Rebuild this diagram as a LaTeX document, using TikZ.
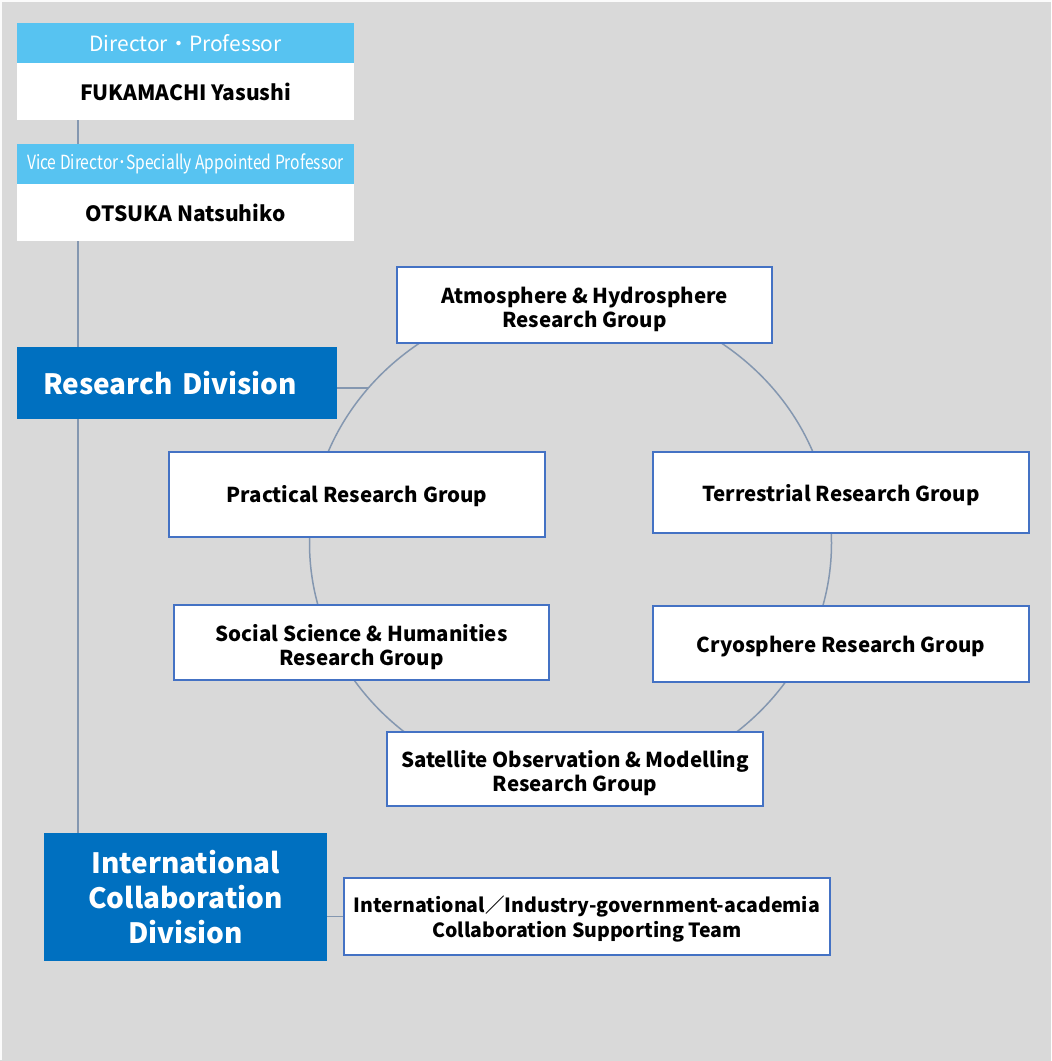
\documentclass[tikz,border=0pt]{standalone}
\usepackage{fontspec}
\setmainfont{Noto Sans CJK JP}
\newfontfamily\jpc[FakeStretch=0.80]{Noto Sans CJK JP}
\newcommand\lowerstrut[1]{\rule{0pt}{#1}}
\definecolor{bggray}{HTML}{D9D9D9}
\definecolor{hdrblue}{HTML}{57C3F1}
\definecolor{divblue}{HTML}{0070C0}
\definecolor{linegray}{HTML}{8497B0}
\definecolor{boxline}{HTML}{4472C4}
\begin{document}
\begin{tikzpicture}[x=1pt,y=-1pt,
  hdr/.style={rectangle,fill=hdrblue,text=white,inner sep=0pt,minimum width=337pt,minimum height=40pt},
  namebox/.style={rectangle,fill=white,text=black,inner sep=0pt,minimum width=337pt,minimum height=57pt,font=\fontsize{21}{24}\selectfont\bfseries},
  divbox/.style={rectangle,fill=divblue,text=white,font=\fontsize{28}{35}\selectfont\bfseries},
  grp/.style={rectangle,fill=white,draw=boxline,line width=1.6pt,text=black,inner sep=0pt,align=center,font=\fontsize{20.5}{24.5}\selectfont\bfseries},
  conn/.style={draw=linegray,line width=1.5pt}]
% background
\fill[bggray] (0,0) rectangle (1051,1061);
\draw[white!90!bggray,line width=2pt] (1051,1) -- (1,1) -- (1,1060);
\useasboundingbox (0,0) rectangle (1051,1061);
% ring
\coordinate (ringc) at (570.5,543);
\draw[conn] (ringc) ellipse [x radius=261, y radius=245];
\coordinate (spine) at (78,0);
\coordinate (rdc) at (368.4,388);
% director
\node[hdr,font=\fontsize{21}{24}\selectfont] (dirh) at (185.5,43) {Director・Professor};
\node[namebox] (dir) at (185.5,91.5) {FUKAMACHI Yasushi};
\node[hdr,font=\jpc\fontsize{19.5}{22}\selectfont] (vich) at (185.5,164) {Vice Director･Specially Appointed Professor};
\node[namebox] (vic) at (185.5,212.5) {OTSUKA Natsuhiko};
% divisions
\node[divbox,inner xsep=26pt,inner ysep=0pt,text width=268pt,align=left,minimum height=72pt] (rd) at (177,383) {Research Division};
\node[divbox,inner sep=0pt,minimum width=283pt,minimum height=128pt,align=center,font=\fontsize{28}{35}\selectfont\bfseries] (icd) at (185.5,897) {International\\Collaboration\\Division};
% spine
\draw[conn] (dir.south -| spine) -- (vich.north -| spine);
\draw[conn] (vic.south -| spine) -- (rd.north -| spine);
\draw[conn] (rd.south -| spine) -- (icd.north -| spine);
\draw[conn] (rd.east |- rdc) -- (rdc);
% groups
\node[grp,minimum width=375pt,minimum height=76pt] (atm) at (584.5,305) {\lowerstrut{25pt}Atmosphere \& Hydrosphere\\Research Group};
\node[grp,minimum width=376pt,minimum height=85pt] (prac) at (357,494.5) {\lowerstrut{21pt}Practical Research Group};
\node[grp,minimum width=376pt,minimum height=81pt] (terr) at (841,492.5) {\lowerstrut{22pt}Terrestrial Research Group};
\node[grp,minimum width=375pt,minimum height=75pt] (soc) at (361.5,642.5) {\lowerstrut{26pt}Social Science \& Humanities\\Research Group};
\node[grp,minimum width=376pt,minimum height=76pt] (cryo) at (841,644) {\lowerstrut{22pt}Cryosphere Research Group};
\node[grp,minimum width=376pt,minimum height=74pt] (sat) at (575,769) {\lowerstrut{25pt}Satellite Observation \& Modelling\\Research Group};
\node[grp,minimum width=486pt,minimum height=77pt,font=\fontsize{19.5}{25}\selectfont\bfseries] (team) at (587,916.5) {\lowerstrut{22pt}International／Industry-government-academia\\Collaboration Supporting Team};
\draw[conn] (icd.east |- team.west) -- (team.west);
\end{tikzpicture}
\end{document}
